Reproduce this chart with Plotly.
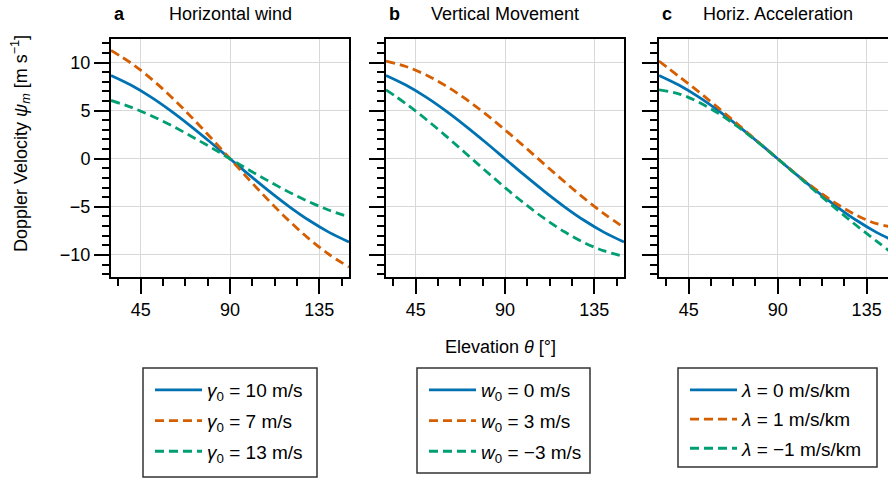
import plotly.graph_objects as go

# Elevation angles (degrees) at which the curves are sampled
theta = [30, 40, 50, 60, 70, 80, 90, 100, 110, 120, 130, 140, 150]

# Panel a: horizontal wind speed
hw_ref = [8.66, 7.66, 6.43, 5.00, 3.42, 1.74, 0.00, -1.74, -3.42, -5.00, -6.43, -7.66, -8.66]
hw_7 = [11.26, 9.96, 8.36, 6.50, 4.45, 2.26, 0.00, -2.26, -4.45, -6.50, -8.36, -9.96, -11.26]
hw_13 = [6.06, 5.36, 4.50, 3.50, 2.39, 1.22, 0.00, -1.22, -2.39, -3.50, -4.50, -5.36, -6.06]

# Panel b: vertical movement
vm_0 = [8.66, 7.66, 6.43, 5.00, 3.42, 1.74, 0.00, -1.74, -3.42, -5.00, -6.43, -7.66, -8.66]
vm_p3 = [10.16, 9.59, 8.73, 7.60, 6.24, 4.69, 3.00, 1.22, -0.60, -2.40, -4.13, -5.73, -7.16]
vm_m3 = [7.16, 5.73, 4.13, 2.40, 0.60, -1.22, -3.00, -4.69, -6.24, -7.60, -8.73, -9.59, -10.16]

# Panel c: horizontal acceleration
ha_0 = [8.66, 7.66, 6.43, 5.00, 3.42, 1.74, 0.00, -1.74, -3.42, -5.00, -6.43, -7.66, -8.66]
ha_p1 = [10.16, 8.57, 6.97, 5.29, 3.55, 1.77, 0.00, -1.71, -3.30, -4.71, -5.89, -6.75, -7.16]
ha_m1 = [7.16, 6.75, 5.89, 4.71, 3.30, 1.71, 0.00, -1.77, -3.55, -5.29, -6.97, -8.57, -10.16]

panel_letters = ["a", "b", "c"]
panel_titles = ["Horizontal wind", "Vertical Movement", "Horiz. Acceleration"]

names_a = ["<i>γ</i><sub>0</sub> = 10 m/s", "<i>γ</i><sub>0</sub> = 7 m/s", "<i>γ</i><sub>0</sub> = 13 m/s"]
names_b = ["<i>w</i><sub>0</sub> = 0 m/s", "<i>w</i><sub>0</sub> = 3 m/s", "<i>w</i><sub>0</sub> = −3 m/s"]
names_c = ["<i>λ</i> = 0 m/s/km", "<i>λ</i> = 1 m/s/km", "<i>λ</i> = −1 m/s/km"]

x_ticks = [45, 90, 135]
y_ticks = [-10, -5, 0, 5, 10]

BLUE = "#0072B2"
ORANGE = "#D55E00"
GREEN = "#009E73"
FONT = "Liberation Sans, Arial, sans-serif"

W, H = 888, 478

def px_x(p):
    return p / W

def px_y(p):
    return 1 - p / H

# panel extents in pixels (left, right)
panels_px = [(111, 349), (386, 624), (659, 888)]
x_ranges = [[30, 150], [30, 150], [30, 145.8]]
top_px, bot_px = 39, 277

# legend frames (left, top, right, bottom), row spacing and inner top offset
legend_boxes = [(143, 368, 317, 477), (417, 368, 590, 473), (678, 368, 877, 467)]
legend_gaps = [3, 3, 1.5]
legend_top_pad = [3, 3, 3]

fig = go.Figure()

series = [
    (hw_ref, hw_7, hw_13, names_a),
    (vm_0, vm_p3, vm_m3, names_b),
    (ha_0, ha_p1, ha_m1, names_c),
]
styles = [(BLUE, "solid"), (ORANGE, "9px,5px"), (GREEN, "9px,5px")]

for i, (s0, s1, s2, names) in enumerate(series):
    sfx = "" if i == 0 else str(i + 1)
    leg = "legend" if i == 0 else f"legend{i + 1}"
    for k, (vals, nm, (col, dash)) in enumerate(zip((s0, s1, s2), names, styles)):
        fig.add_trace(go.Scatter(
            x=theta, y=vals, mode="lines", name=nm,
            line=dict(color=col, width=2.8, dash=dash, shape="spline"),
            xaxis="x" + sfx, yaxis="y" + sfx, legend=leg,
            legendgroup=f"p{i}s{k}",
        ))

layout = dict(
    width=W, height=H,
    margin=dict(l=0, r=0, t=0, b=0),
    paper_bgcolor="white", plot_bgcolor="white",
    font=dict(family=FONT, size=17, color="black"),
    showlegend=True,
)

shapes = []
for i, ((l, r), xr) in enumerate(zip(panels_px, x_ranges)):
    sfx = "" if i == 0 else str(i + 1)
    layout["xaxis" + sfx] = dict(
        domain=[px_x(l), px_x(r)], range=xr, anchor="y" + sfx,
        tickmode="array", tickvals=x_ticks,
        ticks="outside", ticklen=15, tickwidth=2, tickcolor="black",
        minor=dict(ticks="outside", ticklen=7, tickwidth=2, tickcolor="black",
                   dtick=11.25, tick0=0, showgrid=False),
        showline=True, linecolor="black", linewidth=2, mirror=True,
        showgrid=True, gridcolor="#d8d8d8", gridwidth=1,
        zeroline=False, tickfont=dict(size=18), fixedrange=True,
    )
    layout["yaxis" + sfx] = dict(
        domain=[px_y(bot_px), px_y(top_px)], range=[-12.3, 12.45], anchor="x" + sfx,
        tickmode="array", tickvals=y_ticks,
        ticktext=[str(v).replace("-", "−") for v in y_ticks],
        showticklabels=(i == 0),
        ticks="outside", ticklen=15, tickwidth=2, tickcolor="black",
        minor=dict(ticks="outside", ticklen=7, tickwidth=2, tickcolor="black",
                   dtick=1, tick0=0, showgrid=False),
        showline=True, linecolor="black", linewidth=2, mirror=(i < 2),
        showgrid=True, gridcolor="#d8d8d8", gridwidth=1,
        zeroline=False, tickfont=dict(size=18), fixedrange=True,
    )
    bl, bt, br, bb = legend_boxes[i]
    leg = "legend" if i == 0 else f"legend{i + 1}"
    layout[leg] = dict(
        x=px_x(bl + 7), y=px_y(bt + legend_top_pad[i]),
        xanchor="left", yanchor="top",
        bgcolor="rgba(0,0,0,0)", borderwidth=0,
        font=dict(family=FONT, size=19, color="black"),
        tracegroupgap=legend_gaps[i], itemwidth=47,
    )
    shapes.append(dict(
        type="rect", xref="paper", yref="paper",
        x0=px_x(bl), x1=px_x(br), y0=px_y(bb), y1=px_y(bt),
        line=dict(color="#333333", width=1.5), fillcolor="rgba(0,0,0,0)",
        layer="below",
    ))

fig.update_layout(**layout)
fig.update_layout(shapes=shapes)

annotations = []
for i, (l, r) in enumerate(panels_px):
    right = 897 if i == 2 else r
    annotations.append(dict(
        x=px_x(l + 1), y=px_y(14), xref="paper", yref="paper",
        xanchor="left", yanchor="middle", showarrow=False,
        text=f"<b>{panel_letters[i]}</b>", font=dict(size=18),
    ))
    annotations.append(dict(
        x=px_x((l + right) / 2), y=px_y(14), xref="paper", yref="paper",
        xanchor="center", yanchor="middle", showarrow=False,
        text=panel_titles[i], font=dict(size=18),
    ))

annotations.append(dict(
    x=px_x(500), y=px_y(347), xref="paper", yref="paper",
    xanchor="center", yanchor="middle", showarrow=False,
    text="Elevation <i>θ</i> [°]", font=dict(size=18),
))
annotations.append(dict(
    x=px_x(20), y=px_y(144), xref="paper", yref="paper",
    xanchor="center", yanchor="middle", showarrow=False, textangle=-90,
    text="Doppler Velocity <i>ψ</i><sub><i>m</i></sub> [m s<sup>−1</sup>]",
    font=dict(size=18),
))
fig.update_layout(annotations=annotations)

fig.write_html("out.html")
